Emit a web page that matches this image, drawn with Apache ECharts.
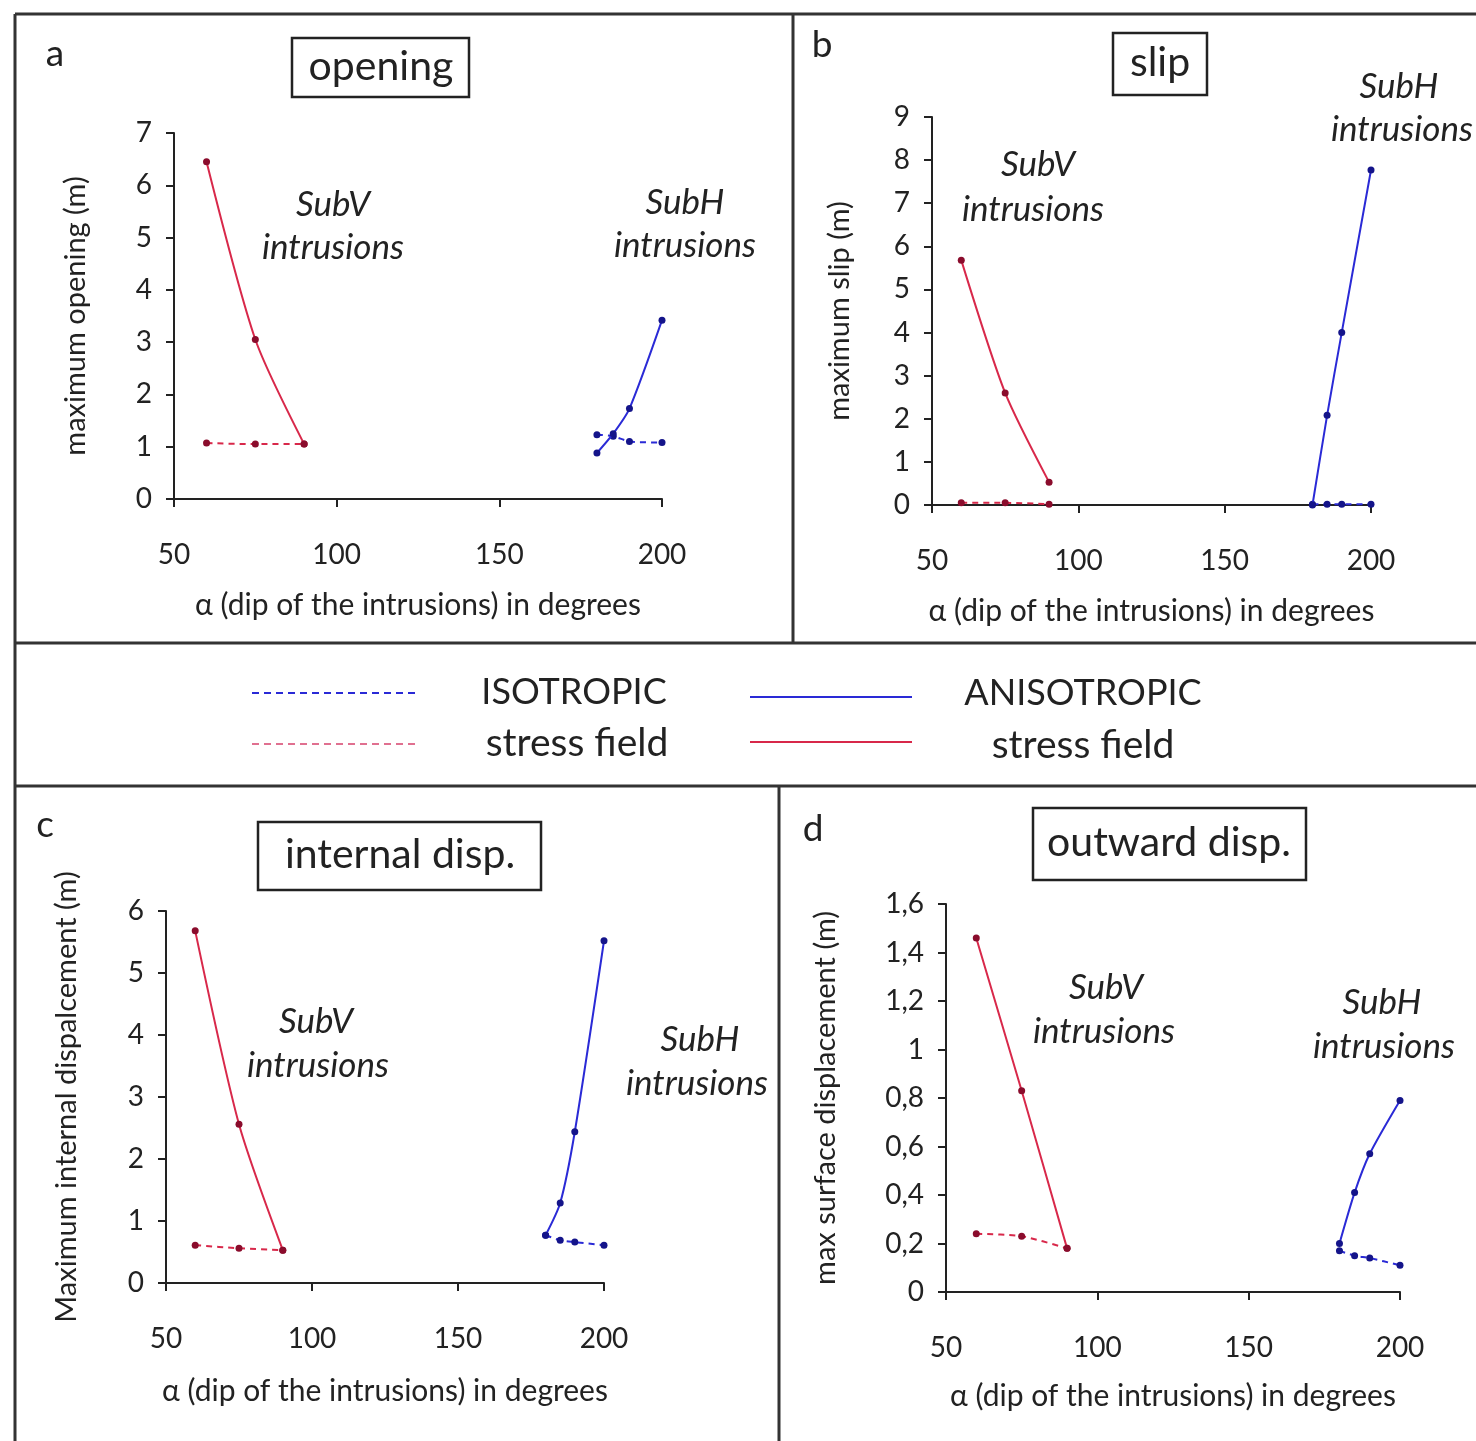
<!DOCTYPE html>
<html><head><meta charset="utf-8">
<script src="https://cdn.jsdelivr.net/npm/echarts@6/dist/echarts.min.js"></script>
<style>html,body{margin:0;padding:0;background:#fff}#c{width:1476px;height:1441px}</style>
</head><body><div id="c"></div>
<script>
// ---- data ----
const subVDips = [60, 75, 90];
const subHDips = [180, 185, 190, 200];
const xTicks = [50, 100, 150, 200];

const aRedAniso = [6.45, 3.05, 1.05];
const aRedIso = [1.07, 1.05, 1.05];
const aBlueAniso = [0.88, 1.25, 1.73, 3.42];
const aBlueIso = [1.23, 1.2, 1.1, 1.08];

const bRedAniso = [5.68, 2.6, 0.53];
const bRedIso = [0.05, 0.05, 0.02];
const bBlueAniso = [0, 2.08, 4.0, 7.77];
const bBlueIso = [0.02, 0.02, 0.02, 0.02];

const cRedAniso = [5.68, 2.56, 0.53];
const cRedIso = [0.61, 0.56, 0.53];
const cBlueAniso = [0.77, 1.29, 2.44, 5.52];
const cBlueIso = [0.77, 0.69, 0.66, 0.61];

const dRedAniso = [1.46, 0.83, 0.18];
const dRedIso = [0.24, 0.23, 0.18];
const dBlueAniso = [0.2, 0.41, 0.57, 0.79];
const dBlueIso = [0.17, 0.15, 0.14, 0.11];

const panelTitles = ['opening', 'slip', 'internal disp.', 'outward disp.'];
const yNames = ['maximum opening (m)', 'maximum slip (m)', 'Maximum internal dispalcement (m)', 'max surface displacement (m)'];
const xName = 'α (dip of the intrusions) in degrees';
const yMax = [7, 9, 6, 1.6];
const yInterval = [1, 1, 1, 0.2];

// ---- styling / layout ----
const FONT = 'Lato, "Open Sans", sans-serif';
const RED = '#d8284a', BLUE = '#2a2ad6';
const RED_M = '#8a0c2c', BLUE_M = '#14148a';
const INK = '#222';

const grids = [
  {left: 174, top: 133, width: 488, height: 366},
  {left: 932, top: 117, width: 439, height: 388},
  {left: 166, top: 911, width: 438, height: 372},
  {left: 946, top: 904, width: 454, height: 388}
];
const yNameGaps = [84, 78, 85, 106];
const xNameGaps = [91, 91, 93, 89];

function pairs(xs, ys) { return xs.map((x, i) => [x, ys[i]]); }

const panels = [
  [aRedAniso, aRedIso, aBlueAniso, aBlueIso],
  [bRedAniso, bRedIso, bBlueAniso, bBlueIso],
  [cRedAniso, cRedIso, cBlueAniso, cBlueIso],
  [dRedAniso, dRedIso, dBlueAniso, dBlueIso]
];

const xAxis = [], yAxis = [], series = [];
panels.forEach((p, i) => {
  xAxis.push({
    type: 'value', gridIndex: i, min: 50, max: 200, interval: 50,
    name: xName, nameLocation: 'middle', nameGap: xNameGaps[i],
    nameTextStyle: {fontFamily: FONT, fontSize: 30, color: INK},
    axisLine: {onZero: false, lineStyle: {color: INK, width: 2}},
    axisTick: {length: 8, lineStyle: {color: INK, width: 2}},
    axisLabel: {fontFamily: FONT, fontSize: 28, color: INK, margin: 42},
    splitLine: {show: false}
  });
  yAxis.push({
    type: 'value', gridIndex: i, min: 0, max: yMax[i], interval: yInterval[i],
    name: yNames[i], nameLocation: 'middle', nameGap: yNameGaps[i], nameRotate: 90,
    nameTextStyle: {fontFamily: FONT, fontSize: 29, color: INK},
    axisLine: {show: true, lineStyle: {color: INK, width: 2}},
    axisTick: {show: true, length: 8, lineStyle: {color: INK, width: 2}},
    axisLabel: {fontFamily: FONT, fontSize: 28, color: INK, margin: 22,
      formatter: v => i === 3 ? String(Math.round(v * 10) / 10).replace('.', ',') : String(v)},
    splitLine: {show: false}
  });
  const mk = (data, color, mcol, dashed) => ({
    type: 'line', xAxisIndex: i, yAxisIndex: i, data, smooth: 0.25,
    symbol: 'circle', symbolSize: 7,
    lineStyle: {color, width: 2, type: dashed ? [6, 5] : 'solid'},
    itemStyle: {color: mcol},
    z: dashed ? 3 : 4, animation: false
  });
  series.push(mk(pairs(subVDips, p[1]), RED, RED_M, true));
  series.push(mk(pairs(subHDips, p[3]), BLUE, BLUE_M, true));
  series.push(mk(pairs(subVDips, p[0]), RED, RED_M, false));
  series.push(mk(pairs(subHDips, p[2]), BLUE, BLUE_M, false));
});

const BORDER = {stroke: '#333', lineWidth: 3};
const line = (x1, y1, x2, y2) => ({type: 'line', shape: {x1, y1, x2, y2}, style: BORDER, silent: true});
const box = (x, y, w, h) => ({type: 'rect', shape: {x, y, width: w, height: h}, style: {fill: '#fff', stroke: '#222', lineWidth: 2.5}});
const txt = (x, y, text, size, opts) => ({type: 'text', x, y, style: Object.assign({text, fontFamily: FONT, fontSize: size, fill: INK, align: 'center', verticalAlign: 'middle'}, opts || {})});
const ital = (x, y, text) => txt(x, y, text, 35, {fontStyle: 'italic'});

const graphic = [
  line(15, 14, 1476, 14),
  line(15, 14, 15, 1441),
  line(793, 14, 793, 643),
  line(15, 643, 1476, 643),
  line(15, 786, 1476, 786),
  line(779, 786, 779, 1441),
  // panel letters
  txt(55, 54, 'a', 37), txt(822, 45, 'b', 37), txt(45, 825, 'c', 37), txt(813, 829, 'd', 37),
  // title boxes
  box(292, 38, 177, 59), txt(381, 67, panelTitles[0], 41),
  box(1113, 33, 94, 62), txt(1160, 63, panelTitles[1], 41),
  box(258, 822, 283, 68), txt(400, 855, panelTitles[2], 41),
  box(1033, 808, 273, 72), txt(1169, 843, panelTitles[3], 41),
  // annotations
  ital(333, 205, 'SubV'), ital(333, 248, 'intrusions'),
  ital(685, 203, 'SubH'), ital(685, 246, 'intrusions'),
  ital(1038, 165, 'SubV'), ital(1033, 210, 'intrusions'),
  ital(1399, 87, 'SubH'), ital(1402, 130, 'intrusions'),
  ital(316, 1022, 'SubV'), ital(318, 1066, 'intrusions'),
  ital(700, 1040, 'SubH'), ital(697, 1084, 'intrusions'),
  ital(1106, 988, 'SubV'), ital(1104, 1032, 'intrusions'),
  ital(1382, 1003, 'SubH'), ital(1384, 1047, 'intrusions'),
  // legend
  {type: 'line', shape: {x1: 252, y1: 693, x2: 418, y2: 693}, style: {stroke: BLUE, lineWidth: 2, lineDash: [7, 5]}},
  {type: 'line', shape: {x1: 252, y1: 744, x2: 418, y2: 744}, style: {stroke: '#e07090', lineWidth: 2, lineDash: [7, 5]}},
  {type: 'line', shape: {x1: 750, y1: 697, x2: 912, y2: 697}, style: {stroke: BLUE, lineWidth: 2}},
  {type: 'line', shape: {x1: 750, y1: 742, x2: 912, y2: 742}, style: {stroke: RED, lineWidth: 2}},
  txt(574, 692, 'ISOTROPIC', 36), txt(577, 743, 'stress field', 39),
  txt(1083, 693, 'ANISOTROPIC', 36), txt(1083, 745, 'stress field', 39)
];

const chart = echarts.init(document.getElementById('c'), null, {renderer: 'canvas'});
chart.setOption({
  backgroundColor: '#fff',
  animation: false,
  grid: grids.map(g => Object.assign({containLabel: false}, g)),
  xAxis, yAxis, series, graphic
});
</script></body></html>
